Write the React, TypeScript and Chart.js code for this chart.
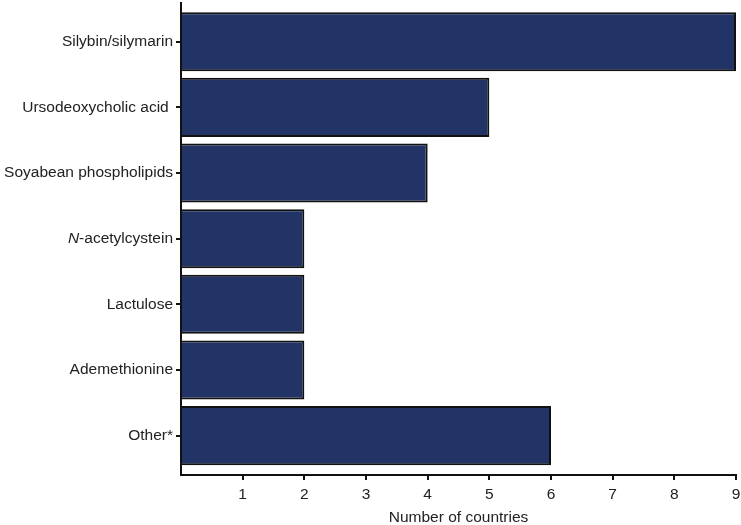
import React, { useEffect, useRef } from 'react';
import Chart from 'chart.js/auto';

// Drugs and number of countries
const categories: string[] = [
  'Silybin/silymarin',
  'Ursodeoxycholic acid ',
  'Soyabean phospholipids',
  'N-acetylcystein',
  'Lactulose',
  'Ademethionine',
  'Other*',
];
const countries: number[] = [9, 5, 4, 2, 2, 2, 6];
const xTicks: number[] = [0, 1, 2, 3, 4, 5, 6, 7, 8, 9];

const FONT = '"Liberation Sans", Arial, sans-serif';
const FONT_SIZE = 15.5;
const ITALIC_INDEX = 3; // "N" of N-acetylcystein is italic

const App: React.FC = () => {
  const canvasRef = useRef<HTMLCanvasElement>(null);

  useEffect(() => {
    document.body.style.margin = '0';
    if (!canvasRef.current) return;
    const ctx = canvasRef.current.getContext('2d');
    if (!ctx) return;

    // draws the label with the italic N by hand
    const italicLabel = {
      id: 'italicLabel',
      afterDraw(chart: any) {
        const y = chart.scales.y;
        const c = chart.ctx;
        const py = y.getPixelForValue(ITALIC_INDEX);
        const right = y.right - 5 - 3;
        const rest = categories[ITALIC_INDEX].slice(1);
        c.save();
        c.fillStyle = '#222';
        c.textBaseline = 'middle';
        c.font = `${FONT_SIZE}px ${FONT}`;
        const wRest = c.measureText(rest).width;
        c.textAlign = 'right';
        c.fillText(rest, right, py);
        c.font = `italic ${FONT_SIZE}px ${FONT}`;
        c.fillText(categories[ITALIC_INDEX][0], right - wRest, py);
        c.restore();
      },
    };

    const chart = new Chart(ctx, {
      type: 'bar',
      data: {
        datasets: [
          {
            data: countries.map((v, i) => ({ x: v, y: i })),
            backgroundColor: '#223366',
            borderColor: '#111',
            borderWidth: 2,
            categoryPercentage: 1,
            barPercentage: 0.9,
          },
        ],
      },
      options: {
        indexAxis: 'y',
        animation: false,
        responsive: false,
        maintainAspectRatio: false,
        layout: { padding: { top: 3, right: 5, left: 0, bottom: 0 } },
        plugins: {
          legend: { display: false },
          tooltip: { enabled: false },
        },
        scales: {
          x: {
            type: 'linear',
            min: xTicks[0],
            max: xTicks[xTicks.length - 1],
            afterBuildTicks: (scale: any) => {
              scale.ticks = xTicks.map(v => ({ value: v }));
            },
            afterFit: (scale: any) => {
              scale.height = 50;
              scale.paddingLeft = 0;
              scale.paddingRight = 0;
            },
            border: { display: true, color: '#111', width: 2 },
            grid: {
              drawOnChartArea: false,
              drawTicks: true,
              tickLength: 5,
              lineWidth: 2,
              color: (c: any) => (c.tick && c.tick.value === 0 ? 'rgba(0,0,0,0)' : '#111'),
            },
            ticks: {
              autoSkip: false,
              maxRotation: 0,
              padding: 5,
              color: '#222',
              font: { family: FONT, size: FONT_SIZE },
              callback: (v: any) => (v === 0 ? '' : String(v)),
            },
            title: {
              display: true,
              text: 'Number of countries',
              color: '#222',
              font: { family: FONT, size: FONT_SIZE, lineHeight: 1 },
              padding: { top: 0, bottom: 0 },
            },
          },
          y: {
            type: 'linear',
            reverse: true,
            offset: false,
            min: -0.59,
            max: 6.6,
            afterBuildTicks: (scale: any) => {
              scale.ticks = categories.map((_, i) => ({ value: i }));
            },
            afterFit: (scale: any) => {
              scale.width = 181;
              scale.paddingTop = 0;
              scale.paddingBottom = 0;
            },
            border: { display: true, color: '#111', width: 2 },
            grid: {
              offset: false,
              drawOnChartArea: false,
              drawTicks: true,
              tickLength: 5,
              lineWidth: 2,
              color: '#111',
            },
            ticks: {
              autoSkip: false,
              padding: 3,
              font: { family: FONT, size: FONT_SIZE },
              color: (c: any) =>
                c.tick && c.tick.value === ITALIC_INDEX ? 'rgba(0,0,0,0)' : '#222',
              callback: (v: any) => categories[v] ?? '',
            },
          },
        },
      },
      plugins: [italicLabel],
    } as any);

    return () => chart.destroy();
  }, []);

  return (
    <div style={{ width: 741, height: 525, background: '#fff' }}>
      <canvas ref={canvasRef} width={741} height={525} />
    </div>
  );
};

export default App;
